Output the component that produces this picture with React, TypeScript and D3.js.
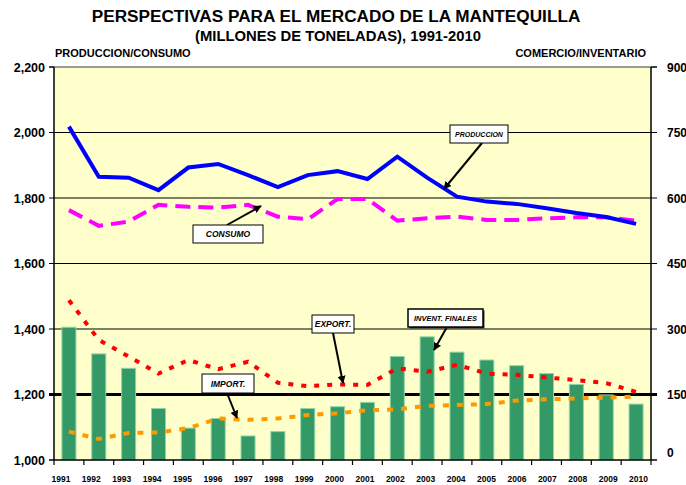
import React from "react";
import * as d3 from "d3";

const years = ["1991","1992","1993","1994","1995","1996","1997","1998","1999","2000","2001","2002","2003","2004","2005","2006","2007","2008","2009","2010"];
const produccion = [2018,1865,1862,1824,1893,1904,1870,1833,1870,1882,1858,1926,1862,1804,1789,1782,1769,1754,1742,1721];
const consumo = [1763,1715,1728,1779,1773,1771,1779,1743,1735,1797,1797,1731,1738,1743,1733,1733,1738,1741,1741,1731];
const exportaciones = [366,275,237,198,229,208,225,177,169,173,172,210,202,218,198,195,189,183,176,156];
const importaciones = [65,48,62,63,73,95,92,95,103,107,114,116,124,126,128,136,139,141,143,145];
const inventarios = [304,243,210,118,73,95,55,65,118,122,132,237,282,247,229,216,198,173,149,128];
const leftTicks = [1000,1200,1400,1600,1800,2000,2200];
const rightTicks = [0,150,300,450,600,750,900];

const W = 686, H = 485;
const X0 = 54, X1 = 651, Y0 = 67, Y1 = 460;
const FONT = "Liberation Sans, Arial, sans-serif";

export default function App() {
  const x = d3.scaleBand<string>().domain(years).range([X0, X1]).padding(0);
  const cx = (yr: string) => (x(yr) as number) + x.bandwidth() / 2;
  const yL = d3.scaleLinear().domain([1000, 2200]).range([Y1, Y0]);
  const yR = d3.scaleLinear().domain([0, 900]).range([Y1, Y0]);
  const fmt = d3.format(",");
  const lineL = d3.line<number>().x((_, i) => cx(years[i])).y((d) => yL(d));
  const lineR = d3.line<number>().x((_, i) => cx(years[i])).y((d) => yR(d));
  const bw = x.bandwidth() * 0.47;

  const box = (x1: number, y1: number, w: number, h: number, label: string, fs: number, thick = false) => (
    <g>
      {thick && <rect x={x1 + 1.5} y={y1 + 1.5} width={w} height={h} fill="#333" />}
      <rect x={x1} y={y1} width={w} height={h} fill="#fff" stroke="#000" strokeWidth={thick ? 1.5 : 1} />
      <text x={x1 + w / 2} y={y1 + h / 2 + fs * 0.36} textAnchor="middle" fontFamily={FONT} fontSize={fs} fontWeight="bold" fontStyle="italic">{label}</text>
    </g>
  );
  const arrow = (xa: number, ya: number, xb: number, yb: number) => (
    <line x1={xa} y1={ya} x2={xb} y2={yb} stroke="#000" strokeWidth={2} markerEnd="url(#arr)" />
  );

  return (
    <svg width={W} height={H} style={{ display: "block", position: "absolute", left: 0, top: 0 }}>
      <defs>
        <marker id="arr" viewBox="0 0 10 10" refX="9" refY="5" markerWidth="4" markerHeight="4" orient="auto">
          <path d="M0,0 L10,5 L0,10 z" fill="#000" />
        </marker>
      </defs>
      <rect x={0} y={0} width={W} height={H} fill="#fff" />
      <text x={336} y={22} textAnchor="middle" fontFamily={FONT} fontSize={17.2} fontWeight="bold">PERSPECTIVAS PARA EL MERCADO DE LA MANTEQUILLA</text>
      <text x={338} y={41} textAnchor="middle" fontFamily={FONT} fontSize={14.8} fontWeight="bold">(MILLONES DE TONELADAS), 1991-2010</text>
      <text x={55} y={57} fontFamily={FONT} fontSize={11} fontWeight="bold">PRODUCCION/CONSUMO</text>
      <text x={646} y={57} textAnchor="end" fontFamily={FONT} fontSize={11} fontWeight="bold">COMERCIO/INVENTARIO</text>

      <rect x={X0} y={Y0} width={X1 - X0} height={Y1 - Y0} fill="#FFFFCC" />
      {leftTicks.slice(1, -1).map((t) => (
        <line key={t} x1={X0 - 5} x2={X1 + 6} y1={yL(t)} y2={yL(t)} stroke="#000" strokeWidth={t === 1200 ? 3 : 1.2} />
      ))}
      {inventarios.map((v, i) => (
        <rect key={i} x={cx(years[i]) - bw / 2} y={yR(v)} width={bw} height={Y1 - yR(v)} fill="#339966" stroke="#8fd4a8" strokeWidth={1} />
      ))}
      <path d={lineR(importaciones) || ""} fill="none" stroke="#FF9900" strokeWidth={4} strokeDasharray="6 8" />
      <path d={lineR(exportaciones) || ""} fill="none" stroke="#FF0000" strokeWidth={4} strokeDasharray="5 8" />
      <path d={lineL(consumo) || ""} fill="none" stroke="#FF00FF" strokeWidth={4} strokeDasharray="15 8" />
      <path d={lineL(produccion) || ""} fill="none" stroke="#0000FF" strokeWidth={4} />

      <line x1={X0} x2={X1} y1={Y0} y2={Y0} stroke="#999" strokeWidth={2} />
      <line x1={X0} x2={X0} y1={Y0} y2={Y1} stroke="#000" strokeWidth={1.5} />
      <line x1={X1} x2={X1} y1={Y0} y2={Y1} stroke="#000" strokeWidth={1.5} />
      <line x1={X0} x2={X1} y1={Y1} y2={Y1} stroke="#000" strokeWidth={1.5} />
      <line x1={X0 - 5} x2={X0} y1={Y0} y2={Y0} stroke="#000" strokeWidth={1.5} />
      <line x1={X1} x2={X1 + 6} y1={Y0} y2={Y0} stroke="#000" strokeWidth={1.5} />
      <line x1={X0 - 5} x2={X0} y1={Y1} y2={Y1} stroke="#000" strokeWidth={1.5} />
      <line x1={X1} x2={X1 + 6} y1={Y1} y2={Y1} stroke="#000" strokeWidth={1.5} />
      {years.map((yr) => (
        <line key={yr} x1={x(yr) as number} x2={x(yr) as number} y1={Y1} y2={Y1 + 5} stroke="#000" strokeWidth={1.2} />
      ))}
      <line x1={X1} x2={X1} y1={Y1} y2={Y1 + 5} stroke="#000" strokeWidth={1.2} />

      {leftTicks.map((t) => (
        <text key={t} x={45} y={yL(t) + 4.5} textAnchor="end" fontFamily={FONT} fontSize={12.5} fontWeight="bold">{fmt(t)}</text>
      ))}
      {rightTicks.map((t) => (
        <text key={t} x={667} y={yR(t) + 4.5 + (t === 0 ? -8 : 0)} fontFamily={FONT} fontSize={12} fontWeight="bold">{t}</text>
      ))}
      {years.map((yr, i) => (
        <text key={yr} x={cx(yr) - 8 + (10.5 * i) / 19} y={Y1 + 22} textAnchor="middle" fontFamily={FONT} fontSize={8.5} fontWeight="bold">{yr}</text>
      ))}

      {arrow(482, 143, 444, 189)}
      {box(450, 125, 58, 18, "PRODUCCION", 7)}
      {arrow(227, 225, 261, 206)}
      {box(193, 225, 70, 18, "CONSUMO", 8.5)}
      {arrow(333, 333, 343, 383)}
      {box(312, 315, 42, 18, "EXPORT.", 8.5)}
      {arrow(227, 393, 237, 418)}
      {box(202, 374, 52, 19, "IMPORT.", 8.5)}
      {arrow(447, 327, 434, 350)}
      {box(408, 309, 75, 18, "INVENT. FINALES", 7.5, true)}
    </svg>
  );
}
